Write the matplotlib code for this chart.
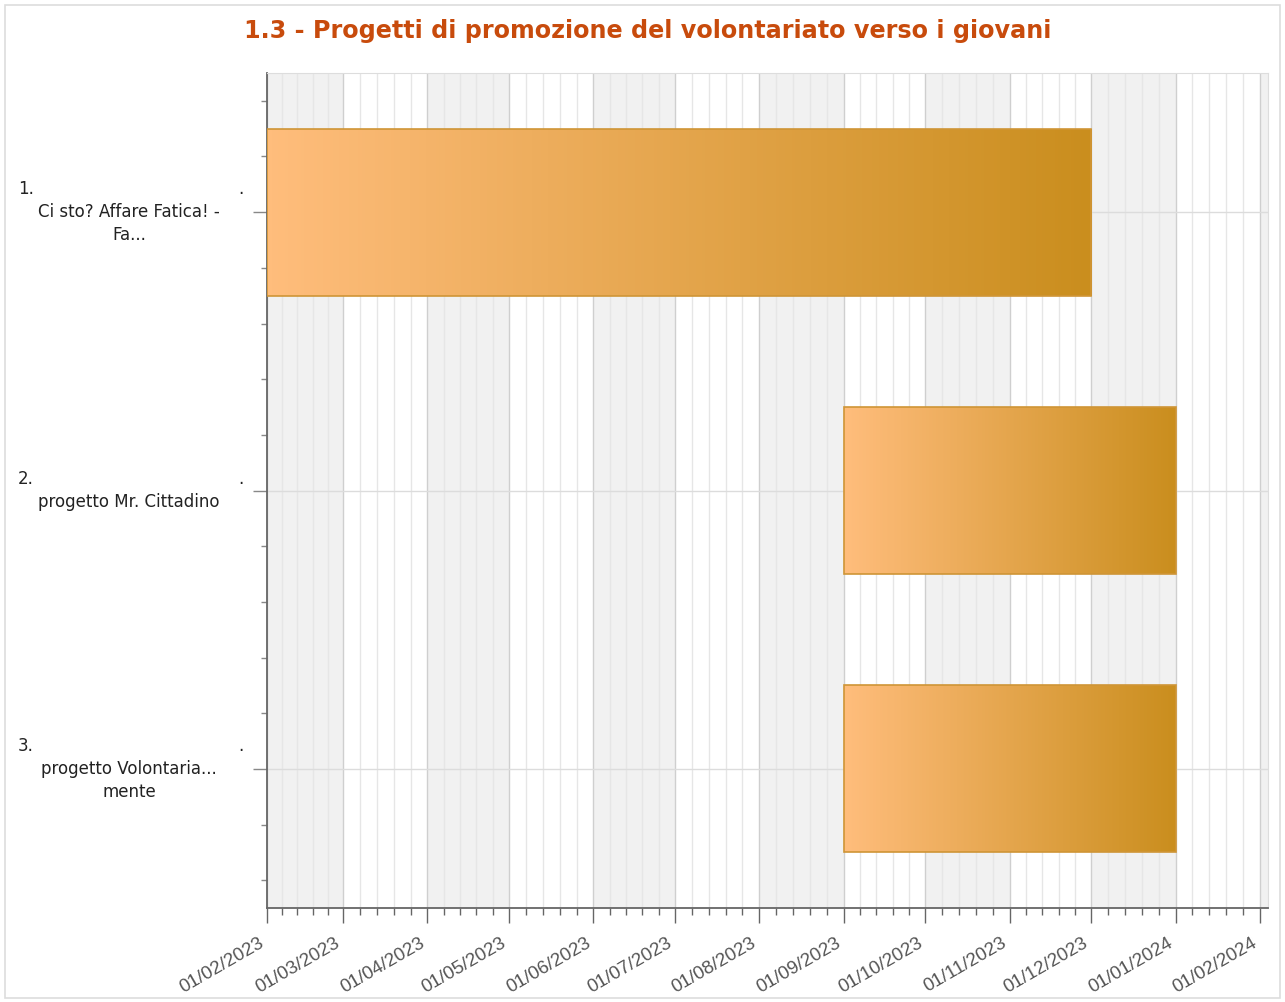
import numpy as np
import matplotlib
matplotlib.use("Agg")
import matplotlib.pyplot as plt
import matplotlib.dates as mdates
from matplotlib.colors import LinearSegmentedColormap
from matplotlib.patches import Rectangle
from datetime import date

title = "1.3 - Progetti di promozione del volontariato verso i giovani"
numbers = ["1.", "2.", "3."]
label_lines = [
    ["Ci sto? Affare Fatica! -", "Fa..."],
    ["progetto Mr. Cittadino"],
    ["progetto Volontaria...", "mente"],
]
starts = [date(2023, 2, 1), date(2023, 9, 1), date(2023, 9, 1)]
ends = [date(2023, 12, 1), date(2024, 1, 1), date(2024, 1, 1)]

x_min = date(2023, 2, 1)
x_max = date(2024, 2, 4)

plt.rcParams["font.family"] = ["Liberation Sans", "DejaVu Sans"]

fig = plt.figure(figsize=(12.85, 10.02), dpi=100)
ax = fig.add_axes([267 / 1285, 1 - 908 / 1002, 1001 / 1285, 835 / 1002])

# outer frame
fig.patches.append(Rectangle((5 / 1285, 4 / 1002), 1275 / 1285, 993 / 1002,
                             transform=fig.transFigure, fill=False,
                             edgecolor="#dddddd", lw=1.2))

fig.text(648 / 1285, 1 - 31 / 1002, title, ha="center", va="center",
         fontsize=17.2, fontweight="bold", color="#c84b0c",
         family=["DejaVu Sans"])

x0, x1 = mdates.date2num(x_min), mdates.date2num(x_max)
ax.set_xlim(x0, x1)
ax.set_ylim(2.5, -0.5)

# month boundaries, alternating shaded bands
months = []
y, m = 2023, 2
while date(y, m, 1) <= x_max:
    months.append(date(y, m, 1))
    m += 1
    if m > 12:
        y, m = y + 1, 1
month_nums = mdates.date2num(months)
for i, mn in enumerate(month_nums):
    nxt = month_nums[i + 1] if i + 1 < len(month_nums) else x1
    if i % 2 == 0:
        ax.axvspan(mn, min(nxt, x1), color="#f1f1f1", zorder=0, lw=0)

minor = []
for i in range(len(month_nums) - 1):
    a, b = month_nums[i], month_nums[i + 1]
    for k in range(1, 5):
        minor.append(a + (b - a) * k / 5)
last = month_nums[-1]
step = (last - month_nums[-2]) / 5
minor += [last + step * k for k in range(1, 5) if last + step * k < x1]

ax.set_xticks(month_nums)
ax.set_xticks(minor, minor=True)
ax.xaxis.set_major_formatter(mdates.DateFormatter("%d/%m/%Y"))
ax.grid(True, which="major", axis="x", color="#cfcfcf", lw=1.0, zorder=1)
ax.grid(True, which="minor", axis="x", color="#e6e6e6", lw=1.0, zorder=1)

ypos = np.arange(len(label_lines))
ax.set_yticks(ypos)
ax.set_yticks(np.arange(-0.4, 2.5, 0.2), minor=True)
ax.set_yticklabels([])
ax.grid(True, which="major", axis="y", color="#dcdcdc", lw=1.0, zorder=1)

for lbl in ax.get_xticklabels():
    lbl.set_rotation(30)
    lbl.set_ha("right")
ax.tick_params(axis="x", which="major", length=11, width=1, color="#666666",
               labelsize=13.5, labelcolor="#555555", pad=8)
ax.tick_params(axis="x", which="minor", length=5, width=1, color="#666666")
ax.tick_params(axis="y", which="major", length=10, width=1, color="#888888")
ax.tick_params(axis="y", which="minor", length=4, width=1, color="#888888")

for side in ["top", "right"]:
    ax.spines[side].set_color("#dddddd")
for side in ["left", "bottom"]:
    ax.spines[side].set_color("#666666")
    ax.spines[side].set_linewidth(1.3)

# gradient bars
cmap = LinearSegmentedColormap.from_list("bar", ["#ffbd7c", "#ca8e1e"])
grad = np.linspace(0, 1, 256).reshape(1, -1)
bh = 0.6
bars = ax.barh(ypos, mdates.date2num(ends) - mdates.date2num(starts),
               left=mdates.date2num(starts), height=bh,
               color="none", edgecolor="#cf9536", lw=1.2, zorder=4)
for bar in bars:
    bx, by = bar.get_x(), bar.get_y()
    bw, bhh = bar.get_width(), bar.get_height()
    im = ax.imshow(grad, cmap=cmap, aspect="auto", zorder=3,
                   extent=(bx, bx + bw, by + bhh, by), interpolation="bilinear")
    im.set_clip_path(bar)
ax.set_xlim(x0, x1)
ax.set_ylim(2.5, -0.5)

# category labels
px = 0.72  # points per pixel
line_h = 23
for i, lines in enumerate(label_lines):
    n = len(lines) + 1
    top = -(n - 1) * line_h / 2
    coords = ("figure fraction", "data")
    ax.annotate(numbers[i], xy=(18 / 1285, i), xycoords=coords,
                xytext=(0, -top * px), textcoords="offset points",
                ha="left", va="center", fontsize=12, color="#222222",
                family=["DejaVu Sans"], annotation_clip=False)
    ax.annotate(".", xy=(241 / 1285, i), xycoords=coords,
                xytext=(0, -top * px), textcoords="offset points",
                ha="center", va="center", fontsize=12, color="#222222",
                family=["DejaVu Sans"], annotation_clip=False)
    for j, line in enumerate(lines):
        dy = top + (j + 1) * line_h
        ax.annotate(line, xy=(129 / 1285, i), xycoords=coords,
                    xytext=(0, -dy * px), textcoords="offset points",
                    ha="center", va="center", fontsize=12, color="#222222",
                    family=["DejaVu Sans"], annotation_clip=False)

fig.savefig("out.png", dpi=100)
